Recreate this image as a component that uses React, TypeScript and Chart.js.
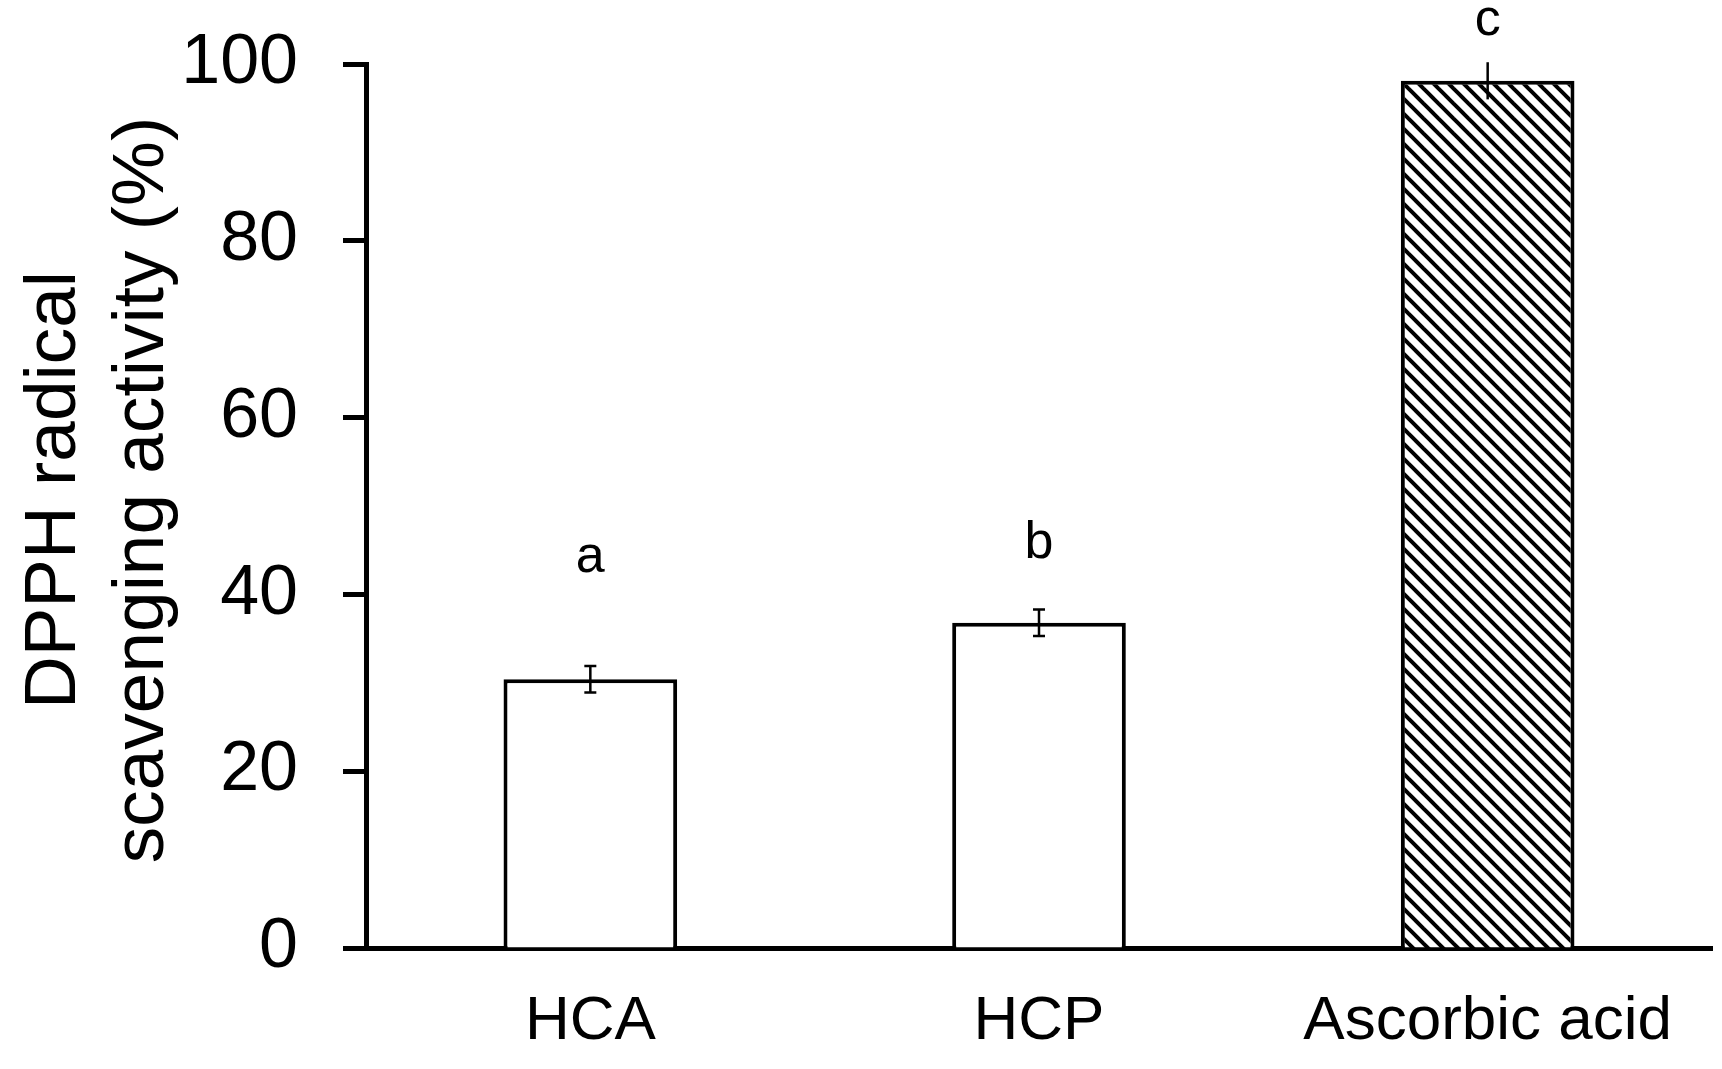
import React, { useEffect, useRef } from "react";
import { Chart, registerables } from "chart.js";

Chart.register(...registerables);

const categories = ["HCA", "HCP", "Ascorbic acid"];
const values = [30.4, 36.8, 98.1];
const errors = [1.5, 1.5, 2.1];
const letters = ["a", "b", "c"];
const letterPos = [42.5, 44.1, 103.3];
const yTitleLines = ["DPPH radical", "scavenging activity (%)"];

const FONT = "'Liberation Sans', Arial, sans-serif";

function makeHatch(): CanvasPattern | string {
  const s = 15;
  const c = document.createElement("canvas");
  c.width = s;
  c.height = s;
  const g = c.getContext("2d");
  if (!g) return "#fff";
  g.fillStyle = "#fff";
  g.fillRect(0, 0, s, s);
  g.strokeStyle = "#000";
  g.lineWidth = 4;
  g.lineCap = "square";
  for (const x0 of [-s, 0, s]) {
    g.beginPath();
    g.moveTo(x0, 0);
    g.lineTo(x0 + s, s);
    g.stroke();
  }
  const p = g.createPattern(c, "repeat");
  return p || "#fff";
}

const overlayPlugin = {
  id: "overlay",
  afterDatasetsDraw(chart: any) {
    const ctx = chart.ctx;
    const meta = chart.getDatasetMeta(0);
    const y = chart.scales.y;
    ctx.save();
    ctx.strokeStyle = "#000";
    ctx.lineWidth = 2.5;
    meta.data.forEach((bar: any, i: number) => {
      const x = bar.x;
      const top = y.getPixelForValue(values[i] + errors[i]);
      const bot = y.getPixelForValue(values[i] - errors[i]);
      ctx.beginPath();
      ctx.moveTo(x, top);
      ctx.lineTo(x, bot);
      if (i < 2) {
        ctx.moveTo(x - 6, top);
        ctx.lineTo(x + 6, top);
        ctx.moveTo(x - 6, bot);
        ctx.lineTo(x + 6, bot);
      }
      ctx.stroke();
      ctx.fillStyle = "#000";
      ctx.font = `52px ${FONT}`;
      ctx.textAlign = "center";
      ctx.textBaseline = "alphabetic";
      ctx.fillText(letters[i], x, y.getPixelForValue(letterPos[i]));
    });
    // y-axis title
    ctx.fillStyle = "#000";
    ctx.font = `73px ${FONT}`;
    ctx.textAlign = "center";
    ctx.textBaseline = "alphabetic";
    const cy = 490;
    const baselines = [75, 163];
    yTitleLines.forEach((t, k) => {
      ctx.save();
      ctx.translate(baselines[k], cy);
      ctx.rotate(-Math.PI / 2);
      ctx.fillText(t, 0, 0);
      ctx.restore();
    });
    ctx.restore();
  },
};

export default function App() {
  const ref = useRef<HTMLCanvasElement>(null);
  useEffect(() => {
    document.body.style.margin = "0";
    const canvas = ref.current;
    if (!canvas) return;
    const hatch = makeHatch();
    const chart = new Chart(canvas, {
      type: "bar",
      data: {
        labels: categories,
        datasets: [
          {
            data: values,
            backgroundColor: ["#ffffff", "#ffffff", hatch as any],
            borderColor: "#000",
            borderWidth: 4,
            categoryPercentage: 1,
            barPercentage: 0.387,
          },
        ],
      },
      options: {
        animation: false,
        responsive: false,
        maintainAspectRatio: false,
        layout: { padding: { left: 0, right: 10, top: 64, bottom: 0 } },
        plugins: {
          legend: { display: false },
          tooltip: { enabled: false },
          title: { display: false },
        },
        scales: {
          x: {
            grid: { display: false, drawTicks: false },
            border: { display: true, color: "#000", width: 5 },
            ticks: {
              color: "#000",
              font: { family: FONT, size: 62 },
              padding: 37,
              maxRotation: 0,
              autoSkip: false,
            },
            afterFit(scale: any) {
              scale.height = 121;
              scale.paddingLeft = 0;
              scale.paddingRight = 0;
            },
          },
          y: {
            min: 0,
            max: 100,
            grid: {
              display: true,
              drawOnChartArea: false,
              drawTicks: true,
              tickLength: 23,
              tickWidth: 5,
              tickColor: "#000",
            },
            border: { display: true, color: "#000", width: 5 },
            ticks: {
              stepSize: 20,
              color: "#000",
              font: { family: FONT, size: 70 },
              padding: 45,
            },
            afterFit(scale: any) {
              scale.width = 366;
              scale.paddingTop = 0;
              scale.paddingBottom = 0;
            },
          },
        },
      },
      plugins: [overlayPlugin],
    });
    return () => chart.destroy();
  }, []);
  return (
    <div style={{ width: 1722, height: 1069, background: "#fff" }}>
      <canvas ref={ref} width={1722} height={1069} style={{ display: "block" }} />
    </div>
  );
}
